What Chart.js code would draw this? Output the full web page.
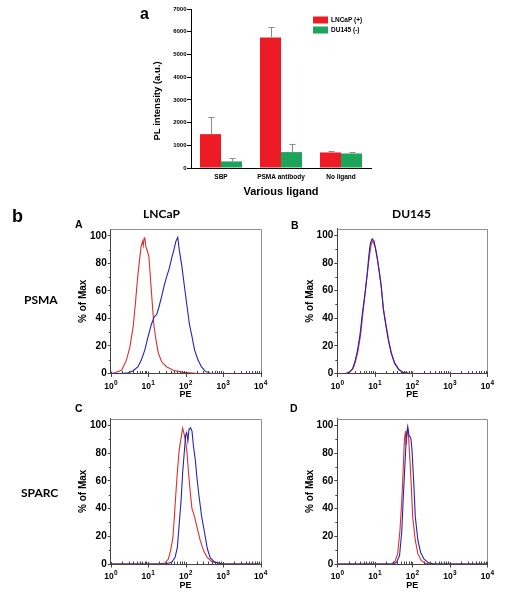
<!DOCTYPE html>
<html><head><meta charset="utf-8">
<script src="https://cdn.jsdelivr.net/npm/chart.js@4.4.0/dist/chart.umd.min.js"></script>
<style>
html,body{margin:0;padding:0;background:#fff;}
#wrap{position:relative;width:507px;height:599px;overflow:hidden;background:#fff;}
canvas{position:absolute;left:0;top:0;}
.lbl{position:absolute;font-family:"Liberation Sans",Arial,sans-serif;font-weight:bold;color:#000;line-height:1;white-space:nowrap;}
.cal{position:absolute;font-family:Lato,"Liberation Sans",sans-serif;font-weight:bold;color:#000;line-height:1;white-space:nowrap;}
</style></head><body>
<div id="wrap">
<canvas id="cBar" width="507" height="599"></canvas>
<canvas id="cA" width="507" height="599"></canvas>
<canvas id="cB" width="507" height="599"></canvas>
<canvas id="cC" width="507" height="599"></canvas>
<canvas id="cD" width="507" height="599"></canvas>
<div class="lbl" style="left:140px;top:6px;font-size:16px;">a</div>
<div class="lbl" style="left:12px;top:207px;font-size:18px;">b</div>
<div class="lbl" style="left:75px;top:218.5px;font-size:10.5px;">A</div>
<div class="lbl" style="left:291px;top:220px;font-size:10.5px;">B</div>
<div class="lbl" style="left:75px;top:403px;font-size:10.5px;">C</div>
<div class="lbl" style="left:290px;top:403px;font-size:10.5px;">D</div>
<div class="cal" style="left:143px;top:208px;font-size:12px;">LNCaP</div>
<div class="cal" style="left:392px;top:208px;font-size:12px;">DU145</div>
<div class="cal" style="left:24px;top:294px;font-size:12px;">PSMA</div>
<div class="cal" style="left:21px;top:487px;font-size:12px;">SPARC</div>
</div>
<script>
// ---------- Panel a data ----------
const ligands = ['SBP', 'PSMA antibody', 'No ligand'];
const lncapPL = [1490, 5750, 685];
const lncapErr = [745, 460, 60];
const du145PL = [290, 700, 640];
const du145Err = [150, 365, 60];
const plTicks = [0, 1000, 2000, 3000, 4000, 5000, 6000, 7000];

// ---------- Panel b data (x = log10(PE), y = % of Max) ----------
const peDecades = [0, 1, 2, 3, 4];
const pctTicks = [0, 20, 40, 60, 80, 100];

const A_red_logPE = [0, 0.11, 0.29, 0.42, 0.51, 0.60, 0.66, 0.72, 0.76, 0.81, 0.85, 0.87, 0.89, 0.91, 0.94, 0.98, 1.02, 1.06, 1.11, 1.15, 1.21, 1.27, 1.36, 1.49, 1.67, 1.90, 2.26, 2.60, 4];
const A_red_pct   = [0, 0.5, 2.4, 9.7, 19, 34, 51, 70, 80, 92, 96, 93, 98, 99, 92, 89, 85, 70, 51, 36, 24, 15, 8.5, 4.9, 2.4, 1, 0.2, 0, 0];
const A_blue_logPE = [0, 0.29, 0.47, 0.60, 0.73, 0.82, 0.91, 1.00, 1.09, 1.16, 1.23, 1.29, 1.36, 1.42, 1.49, 1.56, 1.63, 1.69, 1.74, 1.79, 1.83, 1.90, 1.97, 2.04, 2.10, 2.17, 2.24, 2.33, 2.42, 2.52, 2.66, 3.00, 4];
const A_blue_pct   = [0, 0, 0.5, 2, 5, 10, 17, 27, 36, 41, 43, 48.5, 56, 63, 70, 76, 84, 90, 96, 99, 90, 78, 63, 48.5, 36, 27, 17, 10, 5, 1.7, 0.2, 0, 0];

const B_red_logPE = [0, 0.25, 0.33, 0.42, 0.48, 0.55, 0.62, 0.68, 0.74, 0.80, 0.85, 0.90, 0.94, 0.98, 1.02, 1.06, 1.11, 1.17, 1.23, 1.30, 1.37, 1.44, 1.53, 1.64, 1.76, 1.95, 4];
const B_red_pct   = [0, 0, 1, 3.5, 8, 16, 28, 43, 58, 72, 84, 93, 96, 94, 91, 85, 76, 64, 47, 35, 24, 15, 7.5, 3, 0.8, 0, 0];
const B_blue_logPE = [0, 0.23, 0.32, 0.41, 0.47, 0.54, 0.61, 0.67, 0.74, 0.80, 0.84, 0.87, 0.89, 0.93, 0.98, 1.02, 1.06, 1.11, 1.17, 1.23, 1.30, 1.37, 1.44, 1.53, 1.64, 1.75, 1.93, 4];
const B_blue_pct   = [0, 0, 1, 3.6, 8.5, 17, 29, 44, 58, 73, 85, 92, 95, 97.6, 96, 90, 84, 75, 63, 46, 34, 23, 14.6, 7.3, 2.9, 0.7, 0, 0];

const C_red_logPE = [0, 1.27, 1.45, 1.54, 1.60, 1.66, 1.70, 1.74, 1.79, 1.83, 1.88, 1.92, 1.95, 1.99, 2.03, 2.08, 2.12, 2.17, 2.24, 2.30, 2.39, 2.48, 2.57, 2.70, 2.88, 3.06, 4];
const C_red_pct   = [0, 0, 0.7, 3.6, 9.7, 19, 34, 51, 70, 82.5, 91, 98, 95, 90, 82.5, 65.5, 53, 40, 34, 27, 17, 9.7, 4.9, 1.7, 0.5, 0, 0];
const C_blue_logPE = [0, 1.45, 1.63, 1.72, 1.78, 1.83, 1.88, 1.92, 1.97, 2.00, 2.03, 2.06, 2.09, 2.13, 2.17, 2.21, 2.26, 2.30, 2.36, 2.43, 2.51, 2.58, 2.66, 2.77, 2.97, 3.15, 4];
const C_blue_pct   = [0, 0, 1.2, 4.9, 12, 29, 46, 65.5, 82.5, 93, 94.7, 88.6, 97, 98.3, 96, 85, 75, 63, 48.5, 34, 22, 11, 4.4, 1.5, 0.2, 0, 0];

const D_red_logPE = [0, 1.45, 1.54, 1.61, 1.67, 1.72, 1.76, 1.79, 1.82, 1.84, 1.87, 1.90, 1.93, 1.97, 2.01, 2.08, 2.15, 2.24, 2.35, 2.48, 4];
const D_red_pct   = [0, 0, 2, 7.3, 24, 46, 70, 90, 96, 86, 97.6, 92, 78, 58, 34, 17, 7.3, 2.4, 0.5, 0, 0];
const D_blue_logPE = [0, 1.49, 1.58, 1.66, 1.72, 1.76, 1.81, 1.84, 1.88, 1.91, 1.96, 1.99, 2.04, 2.08, 2.15, 2.22, 2.31, 2.42, 2.57, 4];
const D_blue_pct   = [0, 0, 1.2, 6, 24, 48.5, 75, 92, 99, 93, 91, 83, 58, 34, 17, 8.5, 3.6, 1, 0, 0];

// ---------- styling ----------
const FONT = '"Liberation Sans", Arial, sans-serif';
Chart.defaults.font.family = FONT;
Chart.defaults.color = '#000';
const W = 507, H = 599;
const RED_BAR = '#ed1c24', GREEN_BAR = '#1ba45a';
const RED_LINE = '#d8302f', BLUE_LINE = '#2323b8';
const PL_TITLE = 'PL intensity (a.u.)';

// error bars, legend and y title for panel a
const barDeco = {
  id: 'barDeco',
  afterDatasetsDraw(chart) {
    const {ctx, scales: {y}, chartArea: a} = chart;
    ctx.save();
    ctx.strokeStyle = '#8c8c8c'; ctx.lineWidth = 1;
    chart.data.datasets.forEach((ds, i) => {
      const meta = chart.getDatasetMeta(i);
      meta.data.forEach((bar, j) => {
        const top = y.getPixelForValue(ds.data[j] + ds.errors[j]);
        const x = Math.round(bar.x) + 0.5;
        ctx.beginPath();
        ctx.moveTo(x, bar.y); ctx.lineTo(x, top);
        ctx.moveTo(x - 3, Math.round(top) + 0.5); ctx.lineTo(x + 3, Math.round(top) + 0.5);
        ctx.stroke();
      });
    });
    // legend
    ctx.font = 'bold 6.5px ' + FONT;
    ctx.textBaseline = 'middle';
    chart.data.datasets.forEach((ds, i) => {
      const cy = a.top + 11 + i * 10;
      ctx.fillStyle = ds.backgroundColor;
      ctx.fillRect(a.right - 58, cy - 3.5, 15, 7);
      ctx.fillStyle = '#000';
      ctx.fillText(ds.label, a.right - 40, cy);
    });
    // y axis title (sits below the axis centre in the original)
    ctx.translate(a.left - 34, a.top + 92);
    ctx.rotate(-Math.PI / 2);
    ctx.font = 'bold 9.5px ' + FONT;
    ctx.textAlign = 'center';
    ctx.textBaseline = 'middle';
    ctx.fillText(PL_TITLE, 0, 0);
    ctx.restore();
  }
};

const barArea = {L: 191, T: 9, R: 371, B: 168};
new Chart(document.getElementById('cBar'), {
  type: 'bar',
  data: {
    labels: ligands,
    datasets: [
      {label: 'LNCaP (+)', data: lncapPL, errors: lncapErr, backgroundColor: RED_BAR, categoryPercentage: 0.7, barPercentage: 1.0},
      {label: 'DU145 (-)', data: du145PL, errors: du145Err, backgroundColor: GREEN_BAR, categoryPercentage: 0.7, barPercentage: 1.0}
    ]
  },
  options: {
    responsive: false, animation: false, events: [],
    layout: {padding: {left: barArea.L - 50, top: barArea.T, right: W - barArea.R, bottom: H - barArea.B - 32}},
    plugins: {legend: {display: false}, tooltip: {enabled: false}},
    scales: {
      x: {
        grid: {display: false, drawTicks: false},
        border: {display: true, color: '#000', width: 1},
        ticks: {font: {size: 6.5, weight: 'bold'}, padding: 5, color: '#000'},
        title: {display: true, text: 'Various ligand', font: {size: 11, weight: 'bold'}, color: '#000', padding: {top: 0, bottom: 1.4}},
        afterFit(s) { s.height = 32; }
      },
      y: {
        min: 0, max: 7000,
        afterBuildTicks(s) { s.ticks = plTicks.map(v => ({value: v})); },
        grid: {drawOnChartArea: false, tickLength: 4, color: '#000'},
        border: {display: true, color: '#000', width: 1},
        ticks: {font: {size: 6, weight: 'bold'}, padding: 0.5, color: '#000', callback: v => String(v)},
        title: {display: false},
        afterFit(s) { s.width = 50; }
      }
    }
  },
  plugins: [barDeco]
});

// frame, log ticks and 10^n labels for flow panels
const flowDeco = {
  id: 'flowDeco',
  afterDraw(chart) {
    const {ctx, chartArea: a, scales: {x, y}} = chart;
    ctx.save();
    ctx.lineWidth = 1;
    ctx.strokeStyle = '#8e8e8e';
    ctx.beginPath();
    ctx.moveTo(a.left, Math.round(a.top) + 0.5);
    ctx.lineTo(Math.round(a.right) + 0.5, Math.round(a.top) + 0.5);
    ctx.lineTo(Math.round(a.right) + 0.5, a.bottom);
    ctx.stroke();
    ctx.strokeStyle = '#444';
    ctx.beginPath();
    const decs = chart.options.plugins.flowDeco.decades;
    decs.forEach((d, i) => {
      const px = Math.round(x.getPixelForValue(d)) + 0.5;
      ctx.moveTo(px, a.bottom - 2); ctx.lineTo(px, a.bottom + 3.5);
      if (i < decs.length - 1) {
        for (let k = 2; k <= 9; k++) {
          const p = Math.round(x.getPixelForValue(d + Math.log10(k))) + 0.5;
          ctx.moveTo(p, a.bottom - 2.5); ctx.lineTo(p, a.bottom);
        }
      }
    });
    // minor y ticks
    for (let v = 10; v < 100; v += 20) {
      const py = Math.round(y.getPixelForValue(v)) + 0.5;
      ctx.moveTo(a.left - 2, py); ctx.lineTo(a.left, py);
    }
    ctx.stroke();
    // decade labels 10^n
    ctx.fillStyle = '#000';
    ctx.textBaseline = 'alphabetic';
    decs.forEach(d => {
      const px = x.getPixelForValue(d);
      ctx.font = 'bold 8.5px ' + FONT;
      const wb = ctx.measureText('10').width;
      ctx.font = 'bold 6.5px ' + FONT;
      const we = ctx.measureText(String(d)).width;
      const sx = px - (wb + we) / 2;
      ctx.font = 'bold 8.5px ' + FONT;
      ctx.fillText('10', sx, a.bottom + 15);
      ctx.font = 'bold 6.5px ' + FONT;
      ctx.fillText(String(d), sx + wb + 0.3, a.bottom + 11);
    });
    ctx.restore();
  }
};

function flowChart(id, area, series) {
  const yW = 40, xH = 34;
  return new Chart(document.getElementById(id), {
    type: 'line',
    data: {
      datasets: series.map(s => ({
        label: s.label,
        data: s.x.map((v, i) => ({x: v, y: s.y[i]})),
        borderColor: s.color, borderWidth: 1.1, pointRadius: 0, tension: 0, fill: false
      }))
    },
    options: {
      responsive: false, animation: false, events: [],
      layout: {padding: {left: area.L - yW, top: area.T, right: W - area.R, bottom: H - area.B - xH}},
      plugins: {legend: {display: false}, tooltip: {enabled: false}, flowDeco: {decades: peDecades}},
      scales: {
        x: {
          type: 'linear', min: 0, max: 4,
          grid: {display: false, drawTicks: false},
          border: {display: true, color: '#444', width: 1},
          ticks: {display: false},
          title: {display: true, text: 'PE', font: {size: 9, weight: 'bold'}, color: '#000', padding: {top: 0, bottom: 7.1}},
          afterFit(s) { s.height = xH; }
        },
        y: {
          min: 0, max: 105,
          afterBuildTicks(s) { s.ticks = pctTicks.map(v => ({value: v})); },
          grid: {drawOnChartArea: false, tickLength: 3, color: '#444'},
          border: {display: true, color: '#444', width: 1},
          ticks: {font: {size: 10, weight: 'bold'}, padding: 1, color: '#000'},
          title: {display: true, text: '% of Max', font: {size: 10, weight: 'bold'}, color: '#000', padding: {top: 6.5, bottom: 0}},
          afterFit(s) { s.width = yW; }
        }
      }
    },
    plugins: [flowDeco]
  });
}

flowChart('cA', {L: 110.7, T: 229, R: 260.5, B: 373.5}, [
  {label: 'PSMA', x: A_blue_logPE, y: A_blue_pct, color: BLUE_LINE},
  {label: 'Control', x: A_red_logPE, y: A_red_pct, color: RED_LINE}
]);
flowChart('cB', {L: 337.3, T: 228.5, R: 487.3, B: 373.5}, [
  {label: 'PSMA', x: B_blue_logPE, y: B_blue_pct, color: BLUE_LINE},
  {label: 'Control', x: B_red_logPE, y: B_red_pct, color: RED_LINE}
]);
flowChart('cC', {L: 110.7, T: 418.5, R: 260.5, B: 564}, [
  {label: 'SPARC', x: C_blue_logPE, y: C_blue_pct, color: BLUE_LINE},
  {label: 'Control', x: C_red_logPE, y: C_red_pct, color: RED_LINE}
]);
flowChart('cD', {L: 337.3, T: 418.5, R: 487.3, B: 564}, [
  {label: 'SPARC', x: D_blue_logPE, y: D_blue_pct, color: BLUE_LINE},
  {label: 'Control', x: D_red_logPE, y: D_red_pct, color: RED_LINE}
]);
</script>
</body></html>
